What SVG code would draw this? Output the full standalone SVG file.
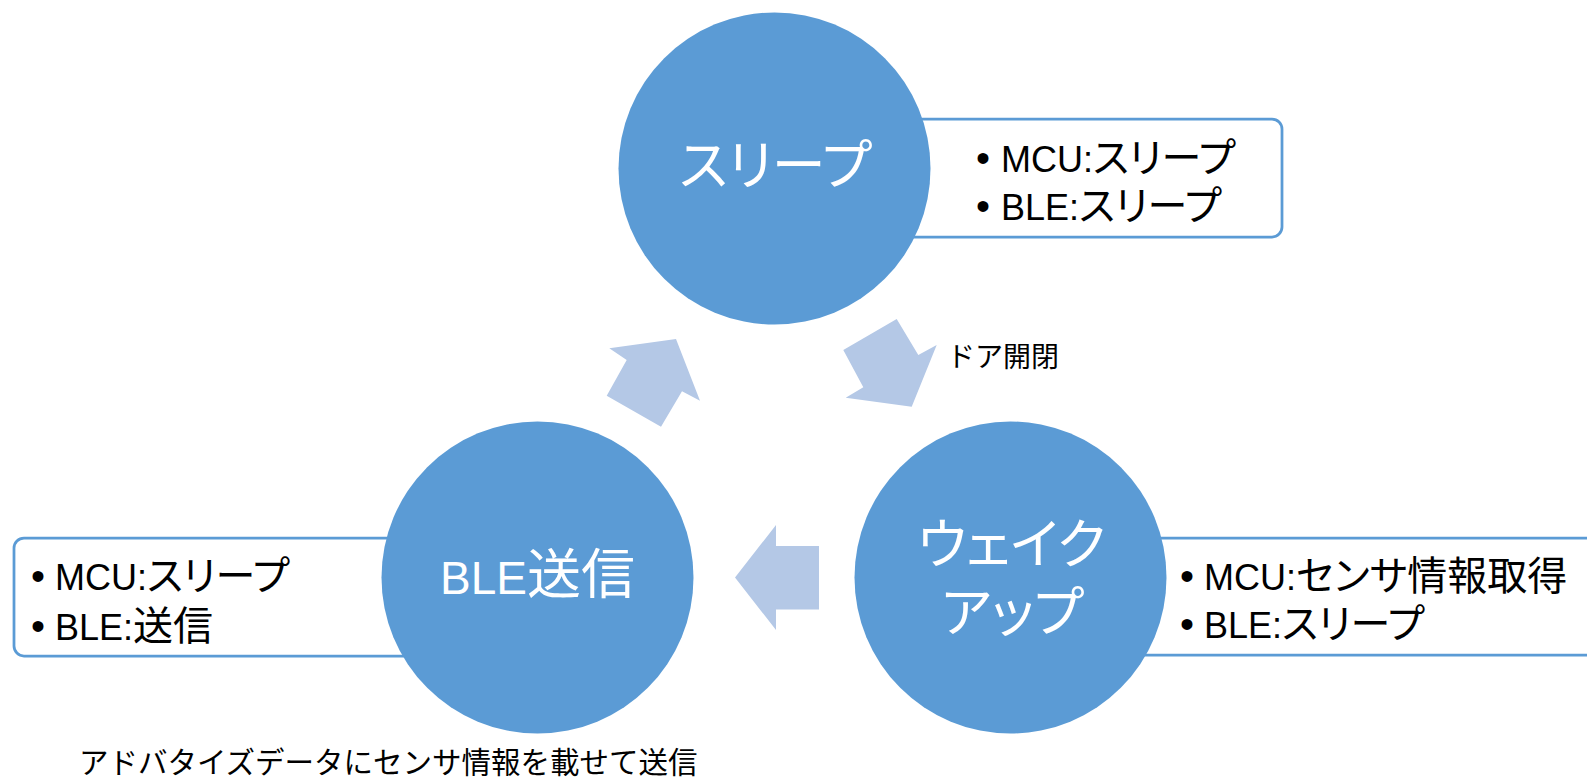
<svg xmlns="http://www.w3.org/2000/svg" width="1587" height="778" viewBox="0 0 1587 778">
<defs>
<style>
.box{fill:#FFFFFF;stroke:#5B9BD5;stroke-width:2.75}
.node{fill:#5B9BD5}
.arrow{fill:#B4C8E6}
.lbl{fill:#FFFFFF;font-family:"Noto Sans CJK JP",sans-serif;font-size:54px;text-anchor:middle;font-feature-settings:"palt"}
.lat{font-family:"Liberation Sans","Noto Sans CJK JP",sans-serif}
.item{fill:#000000;font-family:"Liberation Sans","Noto Sans CJK JP",sans-serif;font-size:36px}
.bul{fill:#000000;font-family:"Liberation Sans",sans-serif;font-size:40px}
.jp{font-family:"Noto Sans CJK JP",sans-serif;font-size:40px;font-feature-settings:"palt"}
.note{fill:#000000;font-family:"Noto Sans CJK JP",sans-serif}
</style>
</defs>
<rect width="1587" height="778" fill="#FFFFFF"/>
<g id="connectors">
<polygon class="arrow" points="609.3,348.3 676,339 700,400.7 682,391.3 661,426.7 606.7,395.7 626.7,360"/>
<polygon class="arrow" points="843.3,350 896.7,319 918.3,355 936.7,345 911.7,406.7 845.7,397.7 863.3,387.3"/>
<polygon class="arrow" points="735,577.5 776,525 776,546 819,546 819,609.5 776,609.5 776,630"/>
<text class="note" x="947" y="367" font-size="28">ドア開閉</text>
</g>
<g id="sleep">
<rect class="box" x="774" y="119" width="508" height="118" rx="10"/>
<circle class="node" cx="774.5" cy="168.5" r="156"/>
<text class="lbl" x="775.5" y="185">スリープ</text>
<text class="bul" x="976" y="172">•</text>
<text class="item" x="1001" y="172">MCU:<tspan class="jp">スリープ</tspan></text>
<text class="bul" x="976" y="220">•</text>
<text class="item" x="1001" y="220">BLE:<tspan class="jp">スリープ</tspan></text>
</g>
<g id="wakeup">
<rect class="box" x="1010" y="538" width="620" height="117" rx="10"/>
<circle class="node" cx="1010.5" cy="577.5" r="156"/>
<text class="lbl" x="1011.5" y="564">ウェイク</text>
<text class="lbl" x="1012.5" y="632">アップ</text>
<text class="bul" x="1180" y="590">•</text>
<text class="item" x="1204" y="590">MCU:<tspan class="jp">センサ情報取得</tspan></text>
<text class="bul" x="1180" y="638">•</text>
<text class="item" x="1204" y="638">BLE:<tspan class="jp">スリープ</tspan></text>
</g>
<g id="send">
<rect class="box" x="14" y="538" width="523" height="118" rx="10"/>
<circle class="node" cx="537.5" cy="577.5" r="156"/>
<text class="lbl" x="537.5" y="594"><tspan class="lat" font-size="46">BLE</tspan>送信</text>
<text class="bul" x="31" y="590">•</text>
<text class="item" x="55" y="590">MCU:<tspan class="jp">スリープ</tspan></text>
<text class="bul" x="31" y="640">•</text>
<text class="item" x="55" y="640">BLE:<tspan class="jp">送信</tspan></text>
<text class="note" x="79" y="773" font-size="29.5">アドバタイズデータにセンサ情報を載せて送信</text>
</g>
</svg>
